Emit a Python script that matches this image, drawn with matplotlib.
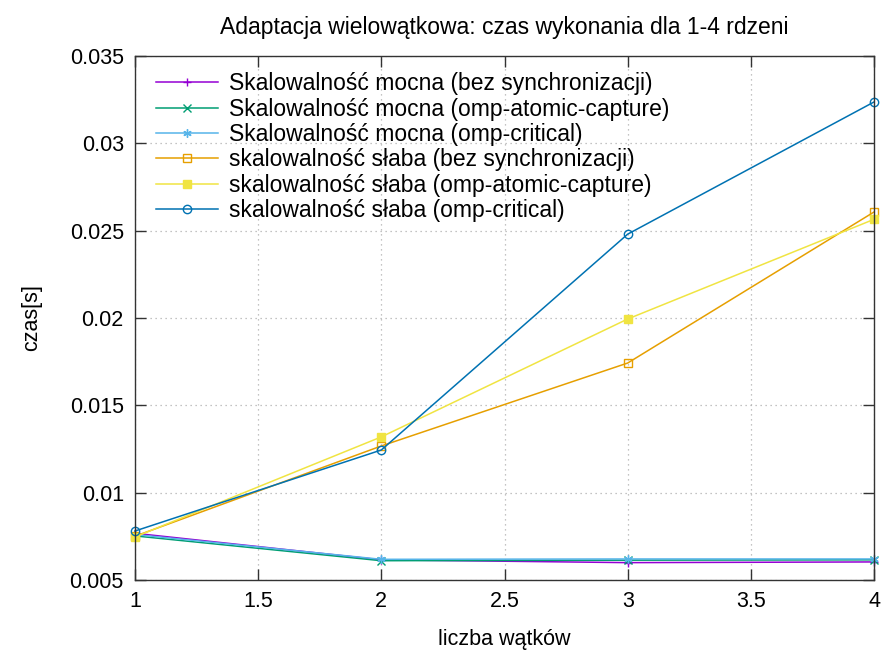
import matplotlib.pyplot as plt
from matplotlib.ticker import MultipleLocator

plt.rcParams['font.family'] = ['Liberation Sans', 'DejaVu Sans']

# liczba wątków
threads = [1, 2, 3, 4]

# skalowalność mocna
strong_nosync = [0.00767, 0.00615, 0.00599, 0.00603]
strong_atomic = [0.00752, 0.00610, 0.00613, 0.00615]
strong_critical = [0.00760, 0.00618, 0.00620, 0.00620]

# skalowalność słaba
weak_nosync = [0.00750, 0.01267, 0.01742, 0.02607]
weak_atomic = [0.00746, 0.01319, 0.01994, 0.02565]
weak_critical = [0.00780, 0.01244, 0.02480, 0.03237]

labels = [
    'Skalowalność mocna (bez synchronizacji)',
    'Skalowalność mocna (omp-atomic-capture)',
    'Skalowalność mocna (omp-critical)',
    'skalowalność słaba (bez synchronizacji)',
    'skalowalność słaba (omp-atomic-capture)',
    'skalowalność słaba (omp-critical)',
]

series = [strong_nosync, strong_atomic, strong_critical,
          weak_nosync, weak_atomic, weak_critical]
colors = ['#9400d3', '#009e73', '#56b4e9', '#e69f00', '#f0e442', '#0072b2']
asterisk = (6, 2, 0)
markers = ['+', 'x', asterisk, 's', 's', 'o']
filled = [True, True, True, False, True, False]

fig = plt.figure(figsize=(8.82, 6.59), dpi=100)
ax = fig.add_axes([0.153, 0.12, 0.838, 0.795])

for y, lab, c, m, f in zip(series, labels, colors, markers, filled):
    ax.plot(threads, y, color=c, lw=1.1, marker=m, ms=6,
            markerfacecolor=c if f else 'none', markeredgecolor=c,
            markeredgewidth=1.0, label=lab, clip_on=False)

ax.set_xlim(1, 4)
ax.set_ylim(0.005, 0.035)
ax.set_xticks([1, 1.5, 2, 2.5, 3, 3.5, 4])
ax.set_yticks([0.005, 0.01, 0.015, 0.02, 0.025, 0.03, 0.035])
ax.set_xticklabels(['1', '1.5', '2', '2.5', '3', '3.5', '4'])
ax.set_yticklabels(['0.005', '0.01', '0.015', '0.02', '0.025', '0.03', '0.035'])

ax.grid(True, color='#b0b0b0', linestyle=(0, (1, 3)), linewidth=0.9)
ax.tick_params(direction='in', length=8, width=1, top=True, right=True,
               labelsize=15.5, pad=8, colors='#333333', labelcolor='black')
for s in ax.spines.values():
    s.set_color('#333333')
    s.set_linewidth(1.0)

ax.set_title('Adaptacja wielowątkowa: czas wykonania dla 1-4 rdzeni',
             fontsize=16.5, pad=16)
ax.set_xlabel('liczba wątków', fontsize=15.5, labelpad=12)
ax.set_ylabel('czas[s]', fontsize=15.5, labelpad=20)

ax.legend(loc='upper left', bbox_to_anchor=(0.01, 0.995), frameon=False,
          fontsize=16.5, handlelength=2.7, handletextpad=0.5,
          labelspacing=0.1, borderaxespad=0.2)

fig.savefig('out.png', dpi=100)
